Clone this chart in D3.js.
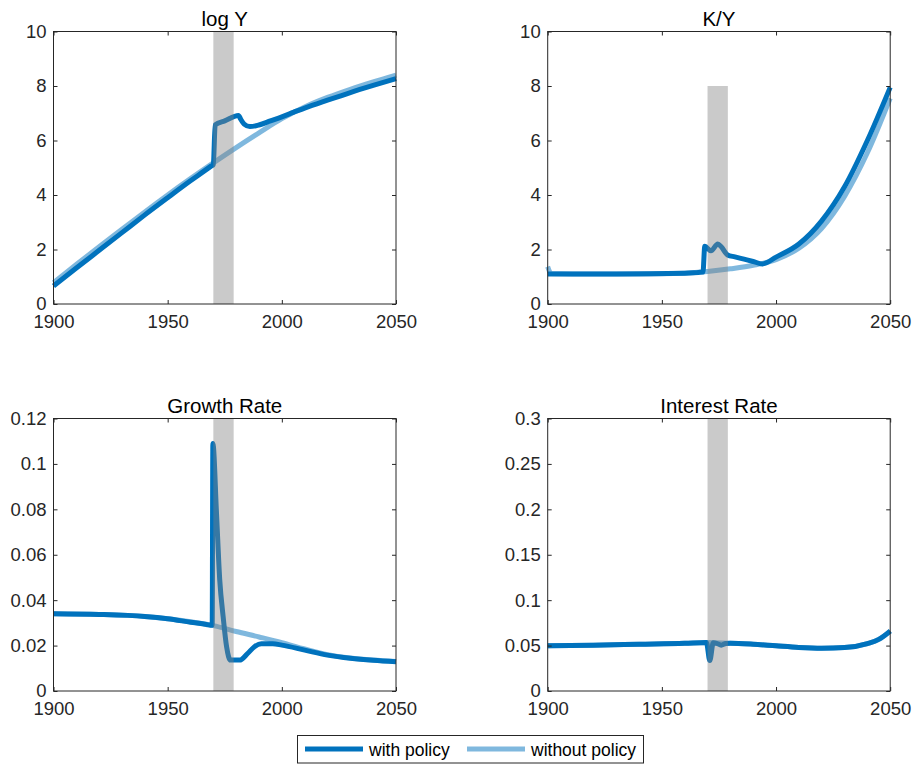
<!DOCTYPE html>
<html>
<head>
<meta charset="utf-8">
<script src="https://cdn.jsdelivr.net/npm/d3@7/dist/d3.min.js"></script>
<style>
  html, body { margin: 0; padding: 0; background: #fff; }
  svg { display: block; }
  text { font-family: "Liberation Sans", Arial, Helvetica, sans-serif; }
</style>
</head>
<body>
<svg id="chart" width="913" height="764"></svg>
<script>
// ---------------- DATA ----------------
const panelTitles = ["log Y", "K/Y", "Growth Rate", "Interest Rate"];
const seriesNames = ["with policy", "without policy"];
const xTicks = [1900, 1950, 2000, 2050];
const xDomain = [1900, 2050];
const yDomains = [[0, 10], [0, 10], [0, 0.12], [0, 0.3]];
const yTicksLogY = [0, 2, 4, 6, 8, 10];
const yTicksKY = [0, 2, 4, 6, 8, 10];
const yTicksGrowth = [0, 0.02, 0.04, 0.06, 0.08, 0.1, 0.12];
const yTicksInterest = [0, 0.05, 0.1, 0.15, 0.2, 0.25, 0.3];
const bandYears = [1970, 1978.9];
const bandTops = [10, 8, 0.12, 0.3];

// [year, value]
const logYWith = [[1900,0.66],[1910,1.32],[1920,1.97],[1930,2.62],[1940,3.27],[1950,3.9],[1960,4.52],[1965,4.82],[1969,5.06],[1970,5.12],
  [1970.8,6.57],[1975,6.72],[1981,6.92],[1982,6.78],[1983.5,6.6],[1986,6.51],[1990,6.57],[1995,6.72],[2000,6.87],
  [2005,7.03],[2010,7.19],[2020,7.48],[2030,7.76],[2040,8.02],[2050,8.27]];
const logYWithout = [[1900,0.78],[1910,1.45],[1920,2.1],[1930,2.74],[1940,3.38],[1950,4.0],[1960,4.6],[1970,5.18],
  [1980,5.74],[1990,6.28],[2000,6.8],[2010,7.23],[2020,7.58],[2030,7.88],[2040,8.15],[2050,8.4]];

const kyWith = [[1900,1.1],[1930,1.1],[1960,1.13],[1966,1.16],[1968,1.17],[1968.8,2.12],[1971.5,1.95],[1974.5,2.2],[1976,2.1],
  [1978.8,1.8],[1982,1.73],[1986,1.645],[1990,1.56],[1994,1.47],[2000,1.72],[2010,2.2],[2020,3.05],[2030,4.3],[2040,6.0],[2050,7.95]];
const kyWithout = [[1900,1.37],[1901.5,1.12],[1920,1.1],[1940,1.1],[1960,1.13],[1970,1.19],[1980,1.29],[1990,1.42],
  [2000,1.63],[2010,2.05],[2020,2.78],[2030,3.95],[2040,5.55],[2050,7.55]];

const growthWith = [[1900,0.034],[1920,0.0337],[1940,0.0328],[1950,0.0318],[1960,0.0303],[1967,0.0293],[1969.5,0.0289],[1969.8,0.109],
  [1971.4,0.078],[1972.8,0.049],[1974.3,0.0327],[1975.8,0.0195],[1977.5,0.0136],[1981.5,0.0136],[1985,0.0165],
  [1988,0.0195],[1991,0.0208],[1996,0.0208],[2000,0.0202],[2010,0.018],[2020,0.0158],[2030,0.0144],[2040,0.0135],[2050,0.0129]];
const growthWithout = [[1900,0.034],[1920,0.0337],[1940,0.0328],[1950,0.0318],[1960,0.0305],[1970,0.0288],[1980,0.0262],
  [1990,0.0238],[2000,0.0213],[2010,0.0185],[2020,0.016],[2030,0.0145],[2040,0.0136],[2050,0.013]];

const interestWith = [[1900,0.0497],[1920,0.0505],[1940,0.0515],[1960,0.0525],[1969.5,0.0535],[1971,0.0335],[1972.5,0.053],
  [1974,0.0525],[1976,0.0505],[1978,0.0522],[1980,0.0525],[1990,0.0515],[2000,0.0497],[2010,0.048],[2020,0.0472],
  [2030,0.0478],[2040,0.0522],[2045,0.0568],[2050,0.066]];
const interestWithout = [[1900,0.0497],[1920,0.0505],[1940,0.0515],[1960,0.0525],[1970,0.0535],[1980,0.0525],[1990,0.0515],
  [2000,0.0497],[2010,0.048],[2020,0.0472],[2030,0.0478],[2040,0.0522],[2045,0.0568],[2050,0.066]];

// ---------------- LAYOUT ----------------
const svg = d3.select("#chart");
const W = 342.5, H = 272.5;
const lefts = [53.5, 547.7];
const tops = [31.5, 418.5];
const darkBlue = "#0072BD";
const panels = [
  {title: panelTitles[0], yd: yDomains[0], yt: yTicksLogY, w: logYWith, wo: logYWithout, band: bandTops[0]},
  {title: panelTitles[1], yd: yDomains[1], yt: yTicksKY, w: kyWith, wo: kyWithout, band: bandTops[1]},
  {title: panelTitles[2], yd: yDomains[2], yt: yTicksGrowth, w: growthWith, wo: growthWithout, band: bandTops[2]},
  {title: panelTitles[3], yd: yDomains[3], yt: yTicksInterest, w: interestWith, wo: interestWithout, band: bandTops[3]},
];
const fmt = d => String(+d.toFixed(4));

panels.forEach((p, i) => {
  const ox = lefts[i % 2], oy = tops[Math.floor(i / 2)];
  const g = svg.append("g").attr("transform", `translate(${ox},${oy})`);
  const x = d3.scaleLinear().domain(xDomain).range([0, W]);
  const y = d3.scaleLinear().domain(p.yd).range([H, 0]);

  const line = d3.line().x(d => x(d[0])).y(d => y(d[1])).curve(d3.curveMonotoneX);

  g.append("path").datum(p.wo).attr("d", line).attr("fill", "none")
    .attr("stroke", darkBlue).attr("stroke-opacity", 0.5).attr("stroke-width", 5)
    .attr("stroke-linejoin", "round");
  g.append("path").datum(p.w).attr("d", line).attr("fill", "none")
    .attr("stroke", darkBlue).attr("stroke-width", 5)
    .attr("stroke-linejoin", "round");

  // shaded policy period (semi-transparent, on top)
  g.append("rect")
    .attr("x", x(bandYears[0])).attr("width", x(bandYears[1]) - x(bandYears[0]))
    .attr("y", y(p.band)).attr("height", y(0) - y(p.band))
    .attr("fill", "#808080").attr("fill-opacity", 0.42);

  const axColor = "#262626";
  const styleAxis = sel => {
    sel.select(".domain").remove();
    sel.selectAll(".tick line").attr("stroke", axColor).attr("stroke-width", 1);
    sel.selectAll(".tick text").attr("fill", axColor).attr("font-size", 18.5)
      .attr("font-family", "'Liberation Sans', Arial, sans-serif");
  };
  g.append("g").attr("transform", `translate(0,${H})`)
    .call(d3.axisBottom(x).tickValues(xTicks).tickFormat(d3.format("d")).tickSizeInner(-4).tickSizeOuter(0).tickPadding(11))
    .call(styleAxis);
  g.append("g")
    .call(d3.axisTop(x).tickValues(xTicks).tickFormat("").tickSizeInner(-4).tickSizeOuter(0))
    .call(styleAxis);
  g.append("g")
    .call(d3.axisLeft(y).tickValues(p.yt).tickFormat(fmt).tickSizeInner(-4).tickSizeOuter(0).tickPadding(7))
    .call(styleAxis);
  g.append("g").attr("transform", `translate(${W},0)`)
    .call(d3.axisRight(y).tickValues(p.yt).tickFormat("").tickSizeInner(-4).tickSizeOuter(0))
    .call(styleAxis);

  g.append("rect").attr("x", 0).attr("y", 0).attr("width", W).attr("height", H)
    .attr("fill", "none").attr("stroke", axColor).attr("stroke-width", 1);

  g.append("text").attr("x", W / 2).attr("y", -6).attr("text-anchor", "middle")
    .attr("font-size", 20.5).attr("fill", "#000").text(p.title);
});

// ---------------- LEGEND ----------------
const lg = svg.append("g");
lg.append("rect").attr("x", 297.5).attr("y", 735.5).attr("width", 346).attr("height", 27.5)
  .attr("fill", "#fff").attr("stroke", "#262626").attr("stroke-width", 1);
const legendItems = [
  {name: seriesNames[0], x1: 305, x2: 363, tx: 369, op: 1},
  {name: seriesNames[1], x1: 467, x2: 525, tx: 531, op: 0.5},
];
legendItems.forEach(it => {
  lg.append("line").attr("x1", it.x1).attr("x2", it.x2).attr("y1", 749).attr("y2", 749)
    .attr("stroke", darkBlue).attr("stroke-opacity", it.op).attr("stroke-width", 5);
  lg.append("text").attr("x", it.tx).attr("y", 755.5).attr("font-size", 17.5).attr("fill", "#000").text(it.name);
});
</script>
</body>
</html>
